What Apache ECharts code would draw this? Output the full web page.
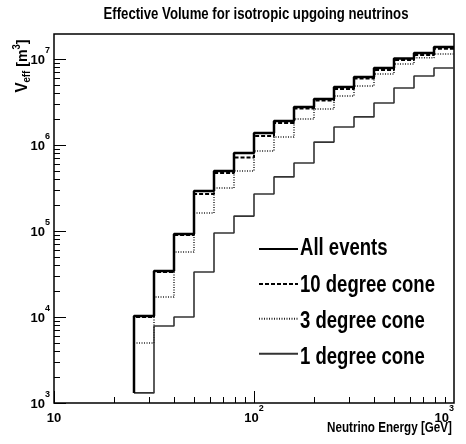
<!DOCTYPE html>
<html>
<head>
<meta charset="utf-8">
<script src="https://cdn.jsdelivr.net/npm/echarts@6/dist/echarts.min.js"></script>
<style>
  html, body { margin: 0; padding: 0; background: #fff; }
  #chart { width: 466px; height: 444px; }
</style>
</head>
<body>
<div id="chart"></div>
<script>
// ---- data ----
const binEdgesLog = [1.4, 1.5, 1.6, 1.7, 1.8, 1.9, 2.0, 2.1, 2.2, 2.3, 2.4, 2.5, 2.6, 2.7, 2.8, 2.9, 3.0];
const allEvents = [1.03e4, 3.43e4, 9.2e4, 2.92e5, 4.99e5, 8.07e5, 1.38e6, 1.90e6, 2.77e6, 3.43e6, 4.72e6, 6.18e6, 7.85e6, 1.01e7, 1.17e7, 1.38e7];
const cone10 = [1.0e4, 3.34e4, 8.98e4, 2.69e5, 4.72e5, 7.16e5, 1.27e6, 1.80e6, 2.66e6, 3.29e6, 4.48e6, 5.93e6, 7.45e6, 9.73e6, 1.11e7, 1.31e7];
const cone3 = [4.99e3, 1.71e4, 5.70e4, 1.62e5, 3.16e5, 4.99e5, 8.51e5, 1.24e6, 2.0e6, 2.62e6, 3.71e6, 4.85e6, 6.70e6, 8.75e6, 1.03e7, 1.14e7];
const cone1 = [1.31e3, 7.86e3, 1.0e4, 3.34e4, 9.48e4, 1.49e5, 2.69e5, 4.25e5, 6.18e5, 1.08e6, 1.62e6, 2.12e6, 3.08e6, 4.60e6, 6.34e6, 7.85e6];
const seriesNames = ['All events', '10 degree cone', '3 degree cone', '1 degree cone'];
const xTickValues = [10, 100, 1000];
const xTickLabels = ['10', '10^2', '10^3'];
const yTickValues = [1e3, 1e4, 1e5, 1e6, 1e7];
const yTickLabels = ['10^3', '10^4', '10^5', '10^6', '10^7'];
const minorMultipliers = [2, 3, 4, 5, 6, 7, 8, 9];
const xRange = [10, 1000];
const yRange = [1000, 1.95e7];
const titleText = 'Effective Volume for isotropic upgoing neutrinos';
const xAxisTitle = 'Neutrino Energy [GeV]';

// ---- helpers ----
const FAM = "'Liberation Sans', Arial, Helvetica, sans-serif";
const mctx = document.createElement('canvas').getContext('2d');
function textW(str, px) { mctx.font = 'bold ' + px + 'px ' + FAM; return mctx.measureText(str).width; }

const edges = binEdgesLog.map(e => Math.pow(10, e));
function stepPoints(vals, floorVal) {
  const pts = [[edges[0], floorVal]];
  vals.forEach((v, i) => { pts.push([edges[i], v]); pts.push([edges[i + 1], v]); });
  return pts;
}
function labelFor(values, labels, v) {
  for (let i = 0; i < values.length; i++) {
    if (Math.abs(Math.log10(v) - Math.log10(values[i])) < 1e-6) {
      const p = labels[i].split('^');
      return p.length > 1 ? '{b|' + p[0] + '}{s|' + p[1] + '}' : '{b|' + p[0] + '}';
    }
  }
  return '';
}
const labelRich = {
  b: { fontFamily: FAM, fontWeight: 'bold', fontSize: 13, color: '#000', lineHeight: 28, padding: [3, 0, 0, 0] },
  s: { fontFamily: FAM, fontWeight: 'bold', fontSize: 9, color: '#000', padding: [0, 0, 16, 0] }
};

// tick marks (drawn through the axes' scales)
const xTicks = [];
[10, 100].forEach(d => {
  xTicks.push([d, yRange[0], 1]);
  minorMultipliers.forEach(m => xTicks.push([d * m, yRange[0], 0]));
});
const yTicks = [];
yTickValues.forEach(d => {
  yTicks.push([xRange[0], d, 1]);
  minorMultipliers.forEach(m => { if (d * m < yRange[1]) yTicks.push([xRange[0], d * m, 0]); });
});
function tickRenderer(horizontalAxis) {
  return function (params, api) {
    const p = api.coord([api.value(0), api.value(1)]);
    const len = api.value(2) ? 12 : 6;
    const shape = horizontalAxis
      ? { x1: Math.round(p[0]) + 0.5, y1: p[1], x2: Math.round(p[0]) + 0.5, y2: p[1] - len }
      : { x1: p[0], y1: Math.round(p[1]) + 0.5, x2: p[0] + len, y2: Math.round(p[1]) + 0.5 };
    return { type: 'line', shape: shape, style: { stroke: '#000', lineWidth: 1 } };
  };
}

// narrow (condensed Helvetica-like) text via horizontal scaling
function narrowText(str, px, targetW, x, y, align) {
  const sx = targetW / textW(str, px);
  return {
    type: 'text', x: x, y: y, scaleX: sx, scaleY: 1, silent: true,
    style: { text: str, font: 'bold ' + px + 'px ' + FAM, fill: '#000', align: align, verticalAlign: 'middle' }
  };
}
const legendPx = 23;
const legendScale = 135 / textW('10 degree cone', legendPx);
const legendRowY = [249, 285.5, 322, 358];
const legendTexts = seriesNames.map((n, i) => ({
  type: 'text', x: 300, y: legendRowY[i], scaleX: legendScale, silent: true,
  style: { text: n, font: 'bold ' + legendPx + 'px ' + FAM, fill: '#000', align: 'left', verticalAlign: 'middle' }
}));

const yNameRich = {
  v: { fontFamily: FAM, fontWeight: 'bold', fontSize: 16, fill: '#000' },
  sub: { fontFamily: FAM, fontWeight: 'bold', fontSize: 10, fill: '#000', padding: [9, 0, 0, 0] },
  t: { fontFamily: FAM, fontWeight: 'bold', fontSize: 15, fill: '#000' },
  sup: { fontFamily: FAM, fontWeight: 'bold', fontSize: 10, fill: '#000', padding: [0, 0, 11, 0] }
};

const chart = echarts.init(document.getElementById('chart'), null, { renderer: 'canvas' });
const option = {
  backgroundColor: '#fff',
  animation: false,
  grid: { left: 54, right: 12, top: 34, bottom: 41, show: true, borderColor: '#000', borderWidth: 1.5, backgroundColor: 'transparent' },
  legend: {
    data: seriesNames, orient: 'vertical', left: 258, top: 242, padding: 0, itemGap: 22.3,
    itemWidth: 39, itemHeight: 14, formatter: () => '', selectedMode: false,
    itemStyle: { opacity: 0 },
    textStyle: { fontSize: 10, color: '#000', padding: 0 }
  },
  xAxis: {
    type: 'log', logBase: 10, min: xRange[0], max: xRange[1],
    axisLine: { show: false }, axisTick: { show: false }, splitLine: { show: false },
    axisLabel: { margin: 0, alignMaxLabel: 'right', formatter: v => labelFor(xTickValues, xTickLabels, v), rich: labelRich }
  },
  yAxis: {
    type: 'log', logBase: 10, min: yRange[0], max: yRange[1],
    axisLine: { show: false }, axisTick: { show: false }, splitLine: { show: false },
    axisLabel: { margin: 4, formatter: v => labelFor(yTickValues, yTickLabels, v), rich: labelRich }
  },
  graphic: [
    narrowText(titleText, 16, 305, 256, 15, 'center'),
    narrowText(xAxisTitle, 14, 125, 452, 428, 'right'),
    {
      type: 'text', x: 23, y: 66, rotation: Math.PI / 2, scaleX: 0.95, silent: true,
      style: { text: '{v|V}{sub|eff}{t| [m}{sup|3}{t|]}', align: 'center', verticalAlign: 'middle', rich: yNameRich }
    }
  ].concat(legendTexts),
  series: [
    { name: '10 degree cone', type: 'line', symbol: 'none', z: 3,
      data: stepPoints(cone10, cone1[0]),
      lineStyle: { color: '#000', width: 2, type: [4, 2] }, itemStyle: { color: '#000' } },
    { name: '3 degree cone', type: 'line', symbol: 'none', z: 2,
      data: stepPoints(cone3, cone1[0]),
      lineStyle: { color: '#222', width: 1.5, type: [1, 1.5] }, itemStyle: { color: '#222' } },
    { name: '1 degree cone', type: 'line', symbol: 'none', z: 2,
      data: stepPoints(cone1, cone1[0]),
      lineStyle: { color: '#333', width: 1.6, type: 'solid' }, itemStyle: { color: '#333' } },
    { name: 'All events', type: 'line', symbol: 'none', z: 4,
      data: stepPoints(allEvents, cone1[0]),
      lineStyle: { color: '#000', width: 2.5, type: 'solid' }, itemStyle: { color: '#000' } },
    { type: 'custom', renderItem: tickRenderer(true), data: xTicks, clip: false, z: 5, silent: true },
    { type: 'custom', renderItem: tickRenderer(false), data: yTicks, clip: false, z: 5, silent: true }
  ]
};
chart.setOption(option);
</script>
</body>
</html>
